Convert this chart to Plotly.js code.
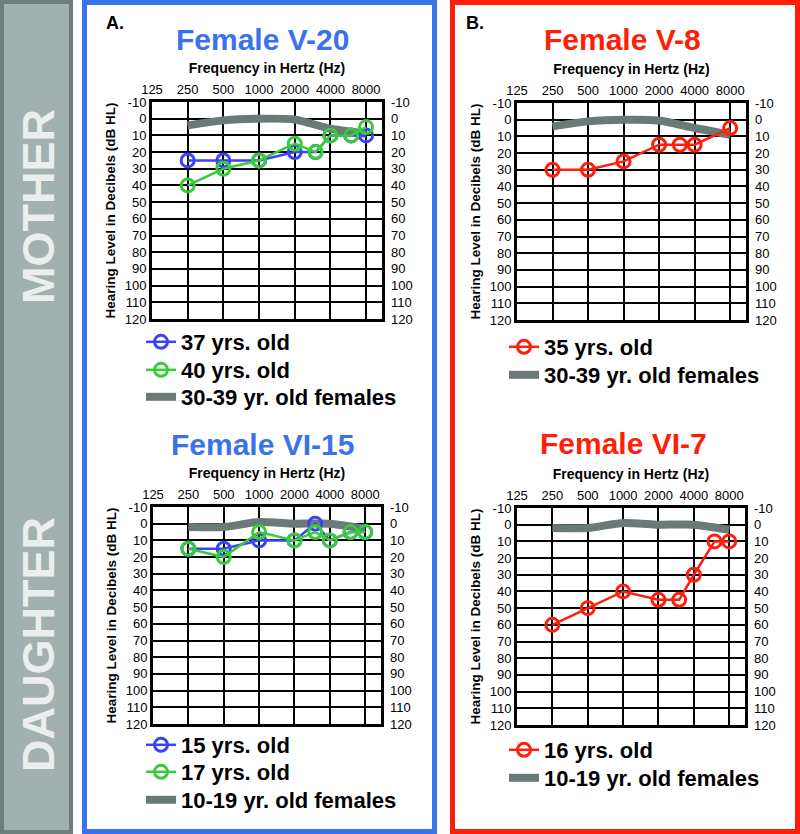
<!DOCTYPE html>
<html><head><meta charset="utf-8">
<script src="https://cdn.plot.ly/plotly-3.0.1.min.js"></script>
<style>html,body{margin:0;padding:0;background:#fff}#chart{width:800px;height:834px}</style>
</head><body><div id="chart"></div>
<script>
// ---- data ----
const freqTickVals = [125, 250, 500, 1000, 2000, 4000, 8000];
const freqTickText = ['125', '250', '500', '1000', '2000', '4000', '8000'];
const dbTickVals = [-10, 0, 10, 20, 30, 40, 50, 60, 70, 80, 90, 100, 110, 120];
const dbTickText = ['-10', '0', '10', '20', '30', '40', '50', '60', '70', '80', '90', '100', '110', '120'];
const testFreqs = [250, 500, 1000, 2000, 3000, 4000, 6000, 8000];
const normFreqs = [250, 500, 1000, 2000, 4000, 8000];

// A. Female V-20 (mother)
const aAge37 = [25, 25, 25, 20, 20, 10, 10, 10];
const aAge40 = [40, 30, 25, 15, 20, 10, 10, 5];
const aNorm30s = [4, 1, 0, 0.5, 6, 9];
// B. Female V-8 (mother)
const bFreqs = [250, 500, 1000, 2000, 3000, 4000, 8000];
const bAge35 = [30, 30, 25, 15, 15, 15, 5];
const bNorm30s = [4, 1, 0, 0.5, 5, 9];
// A. Female VI-15 (daughter)
const cAge15 = [15, 15, 10, 10, 0, 10, 5, 5];
const cAge17 = [15, 20, 5, 10, 5, 10, 5, 5];
const cNorm10s = [2, 2, -1, 0, 0, 3];
// B. Female VI-7 (daughter)
const dAge16 = [60, 50, 40, 45, 45, 30, 10, 10];
const dNorm10s = [2, 2, -1, 0, 0, 3];

// ---- style ----
const FONT = 'Liberation Sans, Arial, sans-serif';
const BLUE = '#3a43f5', GREEN = '#38cc38', RED = '#ff1e0a', GRAY = '#6b7979';
const FRAME_BLUE = '#3a72ee', FRAME_RED = '#ff1e0a';

function dataTrace(x, y, name, color, xa, ya, leg) {
  return {x: x, y: y, name: name, type: 'scatter', mode: 'lines+markers',
    xaxis: xa, yaxis: ya, legend: leg,
    line: {color: color, width: 2.5},
    marker: {symbol: 'circle-open', size: 13, color: color, line: {width: 3, color: color}}};
}
function normTrace(x, y, name, xa, ya, leg) {
  return {x: x, y: y, name: name, type: 'scatter', mode: 'lines',
    xaxis: xa, yaxis: ya, legend: leg,
    line: {color: GRAY, width: 8, shape: 'spline', smoothing: 0.6}};
}

// gray norms on the main (left) axes, measured series on the right axes (same range, drawn on top)
const traces = [
  normTrace(normFreqs, aNorm30s, '30-39 yr. old females', 'x', 'y', 'legend3'),
  dataTrace(testFreqs, aAge37, '37 yrs. old', BLUE, 'x', 'y5', 'legend'),
  dataTrace(testFreqs, aAge40, '40 yrs. old', GREEN, 'x', 'y5', 'legend2'),
  normTrace(normFreqs, bNorm30s, '30-39 yr. old females', 'x2', 'y2', 'legend5'),
  dataTrace(bFreqs, bAge35, '35 yrs. old', RED, 'x2', 'y6', 'legend4'),
  normTrace(normFreqs, cNorm10s, '10-19 yr. old females', 'x3', 'y3', 'legend8'),
  dataTrace(testFreqs, cAge15, '15 yrs. old', BLUE, 'x3', 'y7', 'legend6'),
  dataTrace(testFreqs, cAge17, '17 yrs. old', GREEN, 'x3', 'y7', 'legend7'),
  normTrace(normFreqs, dNorm10s, '10-19 yr. old females', 'x4', 'y4', 'legend10'),
  dataTrace(testFreqs, dAge16, '16 yrs. old', RED, 'x4', 'y8', 'legend9')
];

const W = 800, H = 834;
const px = v => v / W, py = v => 1 - v / H;
const xRange = [Math.log10(125), Math.log10(10900)];
const TICKFONT = {family: FONT, size: 13, color: '#000'};

function xAxis(l, r, anchor) {
  return {domain: [px(l), px(r)], anchor: anchor, type: 'log', range: xRange, side: 'top',
    tickmode: 'array', tickvals: freqTickVals, ticktext: freqTickText, ticks: '',
    tickfont: TICKFONT,
    showgrid: true, gridcolor: '#000', gridwidth: 2, zeroline: false,
    showline: true, linecolor: '#000', linewidth: 3, mirror: true, fixedrange: true,
    title: {text: '<b>Frequency in Hertz (Hz)</b>', font: {family: FONT, size: 14, color: '#000'}, standoff: 5}};
}
function yAxis(t, b, anchor) {
  return {domain: [py(b), py(t)], anchor: anchor, range: [120, -10],
    tickmode: 'array', tickvals: dbTickVals, ticktext: dbTickText, ticks: '',
    tickfont: TICKFONT,
    showgrid: true, gridcolor: '#000', gridwidth: 2, zeroline: false,
    showline: true, linecolor: '#000', linewidth: 3, mirror: true, fixedrange: true,
    title: {text: '<b>Hearing Level in Decibels (dB HL)</b>', font: {family: FONT, size: 13.5, color: '#000'}, standoff: 6}};
}
function yRight(over, anchor) {
  return {overlaying: over, anchor: anchor, side: 'right', range: [120, -10],
    tickmode: 'array', tickvals: dbTickVals, ticktext: dbTickText, ticks: '',
    tickfont: TICKFONT, ticklabelstandoff: 8,
    showgrid: false, zeroline: false, showline: false, fixedrange: true};
}
function legendAt(x, yMid) {
  return {x: px(x), y: py(yMid), xanchor: 'left', yanchor: 'middle', bgcolor: 'rgba(0,0,0,0)',
    font: {family: FONT, size: 22, color: '#000', weight: 'bold'}, itemclick: false};
}
function ann(text, x, y, size, color, angle) {
  return {text: '<b>' + text + '</b>', x: px(x), y: py(y), xref: 'paper', yref: 'paper',
    xanchor: 'center', yanchor: 'middle', showarrow: false, textangle: angle || 0,
    font: {family: FONT, size: size, color: color}};
}

const layout = {
  width: W, height: H, margin: {l: 0, r: 0, t: 0, b: 0},
  paper_bgcolor: '#fff', plot_bgcolor: '#fff', showlegend: true,
  xaxis: xAxis(152, 382, 'y'), yaxis: yAxis(102, 319, 'x'),
  xaxis2: xAxis(517, 746, 'y2'), yaxis2: yAxis(103, 320, 'x2'),
  xaxis3: xAxis(153, 381, 'y3'), yaxis3: yAxis(507, 724, 'x3'),
  xaxis4: xAxis(517, 745, 'y4'), yaxis4: yAxis(508, 725, 'x4'),
  yaxis5: yRight('y', 'x'), yaxis6: yRight('y2', 'x2'),
  yaxis7: yRight('y3', 'x3'), yaxis8: yRight('y4', 'x4'),
  legend: legendAt(141, 342), legend2: legendAt(141, 370), legend3: legendAt(141, 397),
  legend4: legendAt(504, 347), legend5: legendAt(504, 375),
  legend6: legendAt(141, 745), legend7: legendAt(141, 772), legend8: legendAt(141, 800),
  legend9: legendAt(504, 750), legend10: legendAt(504, 778),
  shapes: [
    {type: 'rect', xref: 'paper', yref: 'paper', x0: 0, x1: px(73), y0: 0, y1: 1, fillcolor: '#6f7d7d', line: {width: 0}, layer: 'below'},
    {type: 'rect', xref: 'paper', yref: 'paper', x0: px(4), x1: px(69), y0: py(830), y1: py(4), fillcolor: '#a2b0af', line: {width: 0}, layer: 'below'},
    {type: 'rect', xref: 'paper', yref: 'paper', x0: px(84.5), x1: px(434.5), y0: py(831.5), y1: py(2.5), line: {color: FRAME_BLUE, width: 5}, layer: 'below'},
    {type: 'rect', xref: 'paper', yref: 'paper', x0: px(452.5), x1: px(797.5), y0: py(831.5), y1: py(2.5), line: {color: FRAME_RED, width: 5}, layer: 'below'}
  ],
  annotations: [
    ann('MOTHER', 38, 207, 45, '#eceeee', -90),
    ann('DAUGHTER', 38, 645, 45, '#eceeee', -90),
    ann('A.', 115, 23, 18, '#000'),
    ann('B.', 475, 23, 18, '#000'),
    ann('Female V-20', 262, 39, 30, FRAME_BLUE),
    ann('Female V-8', 622, 39, 30, FRAME_RED),
    ann('Female VI-15', 262, 444, 30, FRAME_BLUE),
    ann('Female VI-7', 623, 443, 30, FRAME_RED)
  ]
};

Plotly.newPlot('chart', traces, layout, {displayModeBar: false, staticPlot: true});
</script></body></html>
